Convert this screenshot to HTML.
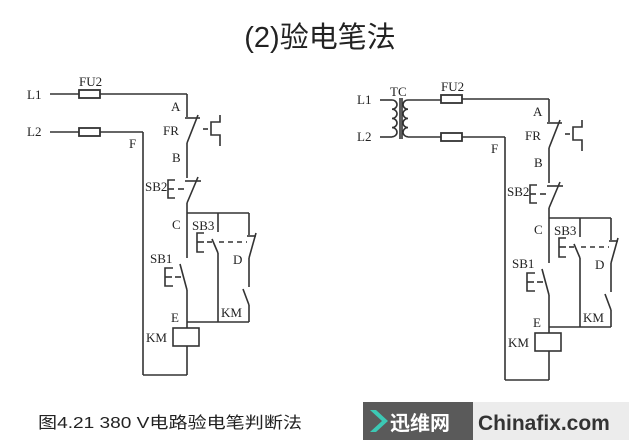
<!DOCTYPE html>
<html><head><meta charset="utf-8"><style>
html,body{margin:0;padding:0;background:#fff;}
svg{display:block;}
text{font-family:"Liberation Serif","Noto Serif CJK SC",serif;fill:#222;}
</style></head><body>
<svg width="640" height="445" viewBox="0 0 640 445" xmlns="http://www.w3.org/2000/svg">
<defs>
<g id="ckt" stroke="#333" stroke-width="1.6" fill="none">
  <rect x="79" y="90" width="21" height="8" stroke-width="1.8"/>
  <line x1="100" y1="94" x2="187" y2="94"/>
  <line x1="187" y1="94" x2="187" y2="117"/>
  <line x1="185" y1="118" x2="200" y2="118"/>
  <line x1="187" y1="143" x2="198" y2="115"/>
  <line x1="203" y1="129" x2="208" y2="129"/>
  <polyline points="220,115 220,122 211,122 211,135 220,135 220,146"/>
  <line x1="187" y1="143" x2="187" y2="178"/>
  <line x1="185" y1="181" x2="201" y2="181"/>
  <line x1="187" y1="203" x2="198" y2="177"/>
  <polyline points="175,180 168,180 168,198 175,198"/>
  <line x1="168" y1="189" x2="174" y2="189"/>
  <line x1="178" y1="189" x2="184" y2="189"/>
  <line x1="187" y1="203" x2="187" y2="258"/>
  <line x1="187" y1="213" x2="249" y2="213"/>
  <line x1="218" y1="213" x2="218" y2="232"/>
  <line x1="212" y1="239" x2="218" y2="253"/>
  <line x1="218" y1="253" x2="218" y2="322"/>
  <polyline points="204,233 197,233 197,252 204,252"/>
  <line x1="197" y1="242" x2="204" y2="242"/>
  <line x1="207" y1="242" x2="212" y2="242"/>
  <line x1="219" y1="242" x2="247" y2="242" stroke-dasharray="5,4"/>
  <line x1="249" y1="213" x2="249" y2="235"/>
  <line x1="247" y1="236" x2="256" y2="236"/>
  <line x1="249" y1="258" x2="256" y2="233"/>
  <line x1="249" y1="258" x2="249" y2="287"/>
  <line x1="243" y1="289" x2="249" y2="305"/>
  <line x1="249" y1="305" x2="249" y2="322"/>
  <line x1="180" y1="264" x2="187" y2="290"/>
  <polyline points="173,268 165,268 165,286 173,286"/>
  <line x1="165" y1="277" x2="172" y2="277"/>
  <line x1="175" y1="277" x2="181" y2="277"/>
  <line x1="187" y1="290" x2="187" y2="328"/>
  <line x1="187" y1="322" x2="249" y2="322"/>
  <rect x="173" y="328" width="26" height="18"/>
  <line x1="187" y1="346" x2="187" y2="375"/>
  <line x1="143" y1="375" x2="187" y2="375"/>
  <line x1="143" y1="132" x2="143" y2="375"/>
  <rect x="79" y="128" width="21" height="8" stroke-width="1.8"/>
  <line x1="100" y1="132" x2="143" y2="132"/>
</g>
<g id="lbl" font-size="13">
  <text x="79" y="86">FU2</text>
  <text x="171" y="111">A</text>
  <text x="163" y="135">FR</text>
  <text x="172" y="162">B</text>
  <text x="145" y="191">SB2</text>
  <text x="172" y="229">C</text>
  <text x="192" y="230">SB3</text>
  <text x="233" y="264">D</text>
  <text x="150" y="263">SB1</text>
  <text x="171" y="322">E</text>
  <text x="146" y="342">KM</text>
  <text x="221" y="317">KM</text>
  <text x="129" y="148">F</text>
</g>
</defs>

<text x="320" y="47" font-size="29" text-anchor="middle" style="font-family:'Liberation Sans','Noto Sans CJK SC',sans-serif">(2)验电笔法</text>

<use href="#ckt"/>
<use href="#lbl"/>
<g stroke="#333" stroke-width="1.6">
<line x1="50" y1="94" x2="79" y2="94"/>
<line x1="50" y1="132" x2="79" y2="132"/>
</g>
<text x="27" y="99" font-size="13">L1</text>
<text x="27" y="136" font-size="13">L2</text>

<g transform="translate(362,5)">
<use href="#ckt"/>
<use href="#lbl"/>
</g>
<g stroke="#333" stroke-width="1.6" fill="none">
<line x1="380" y1="100" x2="392" y2="100"/>
<line x1="380" y1="137" x2="392" y2="137"/>
<path d="M392,100 a5,4.6 0 0 1 0,9.2 a5,4.6 0 0 1 0,9.2 a5,4.6 0 0 1 0,9.2 a5,4.6 0 0 1 0,9.2"/>
<line x1="400" y1="98" x2="400" y2="139"/>
<line x1="402" y1="98" x2="402" y2="139"/>
<path d="M408,100 a5,4.6 0 0 0 0,9.2 a5,4.6 0 0 0 0,9.2 a5,4.6 0 0 0 0,9.2 a5,4.6 0 0 0 0,9.2"/>
<line x1="408" y1="100" x2="441" y2="100"/>
<line x1="408" y1="137" x2="441" y2="137"/>
</g>
<text x="357" y="104" font-size="13">L1</text>
<text x="357" y="141" font-size="13">L2</text>
<text x="390" y="96" font-size="13">TC</text>

<text x="38" y="428" font-size="16" textLength="264" lengthAdjust="spacingAndGlyphs" style="font-family:'Liberation Sans','Noto Sans CJK SC',sans-serif">图4.21  380 V电路验电笔判断法</text>

<rect x="363" y="402" width="110" height="38" fill="#5a5a5a"/>
<rect x="473" y="402" width="156" height="38" fill="#ececec"/>
<polygon points="370,410 382,421 370,432 376,432 388,421 376,410" fill="#3cc8b4"/>
<text x="390" y="430" font-size="20" font-weight="bold" style="fill:#fff;font-family:'Liberation Sans','Noto Sans CJK SC',sans-serif">迅维网</text>
<text x="478" y="430" font-size="21" font-weight="bold" style="fill:#333;font-family:'Liberation Sans',sans-serif">Chinafix.com</text>
</svg>
</body></html>
